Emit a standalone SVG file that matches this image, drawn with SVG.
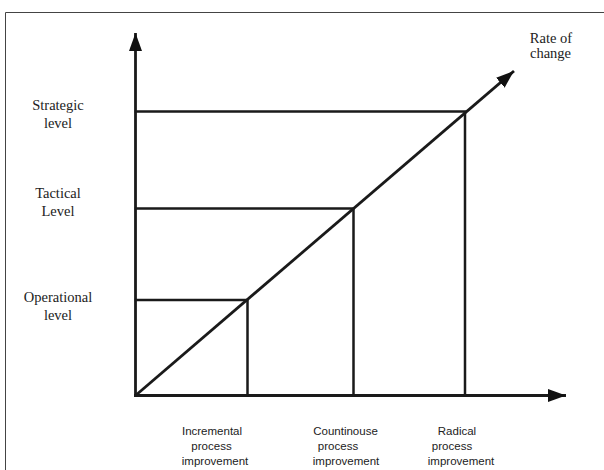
<svg xmlns="http://www.w3.org/2000/svg" width="604" height="470" viewBox="0 0 604 470">
<style>
.ln{stroke:#1a1a1a;stroke-width:2.5;fill:none;stroke-linecap:square}
.ax{stroke:#1a1a1a;stroke-width:2.8;fill:none}
.serif{font-family:"Liberation Serif","Times New Roman",serif;font-size:14.5px;fill:#222;text-anchor:middle}
.sans{font-family:"Liberation Sans",Arial,sans-serif;font-size:11.5px;fill:#222;text-anchor:middle}
</style>
<defs>
<marker id="ah" markerUnits="userSpaceOnUse" markerWidth="19" markerHeight="13" refX="18" refY="6.5" orient="auto">
<path d="M0,0 L18,6.5 L0,13 Z" fill="#111"/>
</marker>
</defs>
<rect x="0" y="0" width="604" height="470" fill="#fff"/>
<path d="M5.5,470 L5.5,12.5 L604,12.5" stroke="#444" stroke-width="1" fill="none"/>
<g id="connectors">
<line class="ax" x1="135.5" y1="396" x2="135.5" y2="33" marker-end="url(#ah)"/>
<line class="ax" x1="134" y1="395.5" x2="566" y2="395.5" marker-end="url(#ah)"/>
<line class="ax" x1="135.5" y1="395.5" x2="514" y2="71" marker-end="url(#ah)"/>
<polyline class="ln" points="136,111.5 465,111.5 465,395"/>
<polyline class="ln" points="136,208.5 353.5,208.5 353.5,395"/>
<polyline class="ln" points="136,300 247.5,300 247.5,395"/>
</g>
<g id="rate-of-change">
<text class="serif" x="551" y="42.5">Rate of</text>
<text class="serif" x="550.5" y="58">change</text>
</g>
<g id="strategic-level">
<text class="serif" x="58" y="110">Strategic</text>
<text class="serif" x="58" y="128">level</text>
</g>
<g id="tactical-level">
<text class="serif" x="58" y="198">Tactical</text>
<text class="serif" x="58" y="216">Level</text>
</g>
<g id="operational-level">
<text class="serif" x="58" y="302">Operational</text>
<text class="serif" x="58" y="319.5">level</text>
</g>
<g id="incremental">
<text class="sans" x="212" y="435">Incremental</text>
<text class="sans" x="211.5" y="450">process</text>
<text class="sans" x="215" y="465">improvement</text>
</g>
<g id="continuous">
<text class="sans" x="345.5" y="435">Countinouse</text>
<text class="sans" x="338" y="450">process</text>
<text class="sans" x="346" y="465">improvement</text>
</g>
<g id="radical">
<text class="sans" x="457" y="435">Radical</text>
<text class="sans" x="452" y="450">process</text>
<text class="sans" x="461" y="465">improvement</text>
</g>
</svg>
